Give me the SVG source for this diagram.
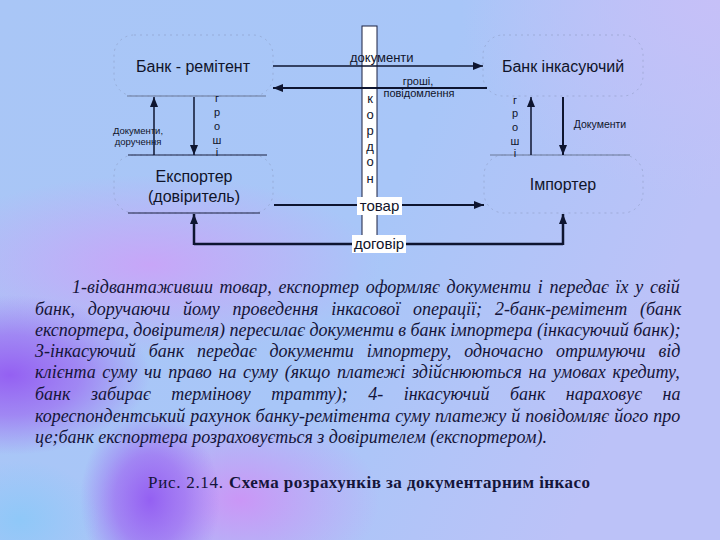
<svg xmlns="http://www.w3.org/2000/svg" width="720" height="540" viewBox="0 0 720 540">
<defs>
<linearGradient id="bg" x1="0" y1="0" x2="1" y2="0.3">
<stop offset="0" stop-color="#a9c6f6"/>
<stop offset="0.6" stop-color="#a8c6f8"/>
<stop offset="1" stop-color="#bcc2f8"/>
</linearGradient>
<radialGradient id="purple">
<stop offset="0" stop-color="#9460f2" stop-opacity="1"/>
<stop offset="0.5" stop-color="#9c6cf2" stop-opacity="0.7"/>
<stop offset="1" stop-color="#a070f2" stop-opacity="0"/>
</radialGradient>
<radialGradient id="lav">
<stop offset="0" stop-color="#c9a4f8" stop-opacity="0.95"/>
<stop offset="1" stop-color="#c9a4f8" stop-opacity="0"/>
</radialGradient>
<radialGradient id="pink">
<stop offset="0" stop-color="#cc94f6" stop-opacity="0.95"/>
<stop offset="1" stop-color="#cc94f6" stop-opacity="0"/>
</radialGradient>
<radialGradient id="tr">
<stop offset="0" stop-color="#c6c0f8" stop-opacity="1"/>
<stop offset="1" stop-color="#c6c0f8" stop-opacity="0"/>
</radialGradient>
<radialGradient id="lblue">
<stop offset="0" stop-color="#8fc8f8" stop-opacity="1"/>
<stop offset="1" stop-color="#8fc8f8" stop-opacity="0"/>
</radialGradient>
<marker id="ah" markerWidth="10" markerHeight="8" refX="10" refY="4" orient="auto" markerUnits="userSpaceOnUse">
<path d="M0,0 L10,4 L0,8 z" fill="#0e1530"/>
</marker>
<style>
.box{fill:none;stroke:#8290b4;stroke-width:1;stroke-dasharray:2 4;opacity:0.45}
.edge{stroke:#1a2040;stroke-width:1}
.edgel{stroke:#6a7898;stroke-width:1}
.con{fill:none;stroke:#0e1530;stroke-width:2}
.lbl{font-family:"Liberation Sans",Arial,sans-serif;fill:#10142a}
.big{font-size:16px;text-anchor:middle}
.sm{font-size:11px;text-anchor:middle}
.xs{font-size:9.5px;text-anchor:middle}
.v{font-size:13px;text-anchor:middle}
.para{font-family:"Liberation Serif","Times New Roman",serif;font-style:italic;font-size:18px;fill:#15153a}
.cap{font-family:"Liberation Serif","Times New Roman",serif;font-size:17px;fill:#15153a}
</style>
</defs>
<rect width="720" height="540" fill="url(#bg)"/>
<ellipse cx="720" cy="0" rx="260" ry="200" fill="url(#tr)"/>
<ellipse cx="150" cy="265" rx="230" ry="90" fill="url(#lav)"/>
<ellipse cx="10" cy="375" rx="140" ry="80" fill="url(#purple)"/>
<ellipse cx="240" cy="500" rx="140" ry="90" fill="url(#pink)"/>
<ellipse cx="150" cy="500" rx="70" ry="90" fill="url(#purple)"/>
<ellipse cx="20" cy="520" rx="80" ry="60" fill="url(#lblue)"/>

<g id="bank-remitent">
<rect class="box" x="114" y="35" width="159" height="61" rx="20"/>
<line class="edgel" x1="127" y1="96" x2="266" y2="96"/>
<text class="lbl big" x="193" y="72">Банк - ремітент</text>
</g>
<g id="bank-inkasuyuchyi">
<rect class="box" x="483" y="35" width="160" height="61" rx="20"/>
<text class="lbl big" x="563" y="72">Банк інкасуючий</text>
</g>
<g id="eksporter">
<rect class="box" x="114" y="155" width="159" height="58" rx="20"/>
<line class="edge" x1="128" y1="155" x2="267" y2="155"/>
<line class="edge" x1="128" y1="213" x2="260" y2="213"/>
<text class="lbl big" x="194" y="182">Експортер</text>
<text class="lbl big" x="194" y="202">(довіритель)</text>
</g>
<g id="importer">
<rect class="box" x="484" y="155" width="159" height="58" rx="20"/>
<line class="edgel" x1="490" y1="155" x2="630" y2="155"/>
<text class="lbl big" x="563" y="190">Імпортер</text>
</g>
<g id="kordon">
<rect x="362" y="26" width="15" height="220" fill="#ffffff" stroke="#1a2040" stroke-width="1"/>
</g>

<g id="connectors">
<path class="con" style="stroke-width:1.5" d="M273,66 H483" marker-end="url(#ah)"/>
<path class="con" d="M487,88 H273" marker-end="url(#ah)"/>
<path class="con" style="stroke-width:1.5" d="M154,155 V97" marker-end="url(#ah)"/>
<path class="con" style="stroke-width:1.5" d="M194,97 V155" marker-end="url(#ah)"/>
<path class="con" style="stroke-width:1.5" d="M531,155 V97" marker-end="url(#ah)"/>
<path class="con" d="M563,97 V155" marker-end="url(#ah)"/>
<path class="con" d="M274,205 H484" marker-end="url(#ah)"/>
<path class="con" style="stroke-width:2.5" d="M194,244 H563"/>
<path class="con" style="stroke-width:2.5" d="M194,245 V214" marker-end="url(#ah)"/>
<path class="con" style="stroke-width:2.5" d="M563,245 V214" marker-end="url(#ah)"/>
</g>

<g id="labels">
<text class="lbl" x="350" y="62" style="font-size:13px">документи</text>
<text class="lbl sm" x="418" y="85">гроші,</text>
<text class="lbl sm" x="419" y="97">повідомлення</text>
<text class="lbl v" x="370" y="103">к</text>
<text class="lbl v" x="370" y="119">о</text>
<text class="lbl v" x="370" y="135">р</text>
<text class="lbl v" x="370" y="151">д</text>
<text class="lbl v" x="370" y="166">о</text>
<text class="lbl v" x="370" y="183">н</text>
<rect x="357" y="197" width="45" height="18" fill="#ffffff"/>
<text class="lbl" x="379.5" y="211" style="font-size:15px;text-anchor:middle">товар</text>
<rect x="352" y="235" width="54" height="18" fill="#ffffff"/>
<text class="lbl" x="379" y="249" style="font-size:15px;text-anchor:middle">договір</text>
<text class="lbl sm" x="217" y="102">г</text>
<text class="lbl sm" x="217" y="116">р</text>
<text class="lbl sm" x="217" y="130">о</text>
<text class="lbl sm" x="217" y="144">ш</text>
<text class="lbl sm" x="217" y="156">і</text>
<text class="lbl sm" x="515" y="104">г</text>
<text class="lbl sm" x="515" y="117">р</text>
<text class="lbl sm" x="515" y="131">о</text>
<text class="lbl sm" x="515" y="145">ш</text>
<text class="lbl sm" x="515" y="157">і</text>
<text class="lbl xs" x="138" y="134">Документи,</text>
<text class="lbl xs" x="138" y="145">доручення</text>
<text class="lbl" x="600" y="128" style="font-size:10.5px;text-anchor:middle">Документи</text>
</g>

<g id="paragraph">
<text class="para" x="72" y="293" style="word-spacing:2.2px">1-відвантаживши товар, експортер оформляє документи і передає їх у свій</text>
<text class="para" x="35" y="315" style="word-spacing:8.3px">банк, доручаючи йому проведення інкасової операції; 2-банк-ремітент (банк</text>
<text class="para" x="35" y="336" style="word-spacing:-0.1px">експортера, довірителя) пересилає документи в банк імпортера (інкасуючий банк);</text>
<text class="para" x="35" y="357" style="word-spacing:8.4px">3-інкасуючий банк передає документи імпортеру, одночасно отримуючи від</text>
<text class="para" x="35" y="378" style="word-spacing:2.2px">клієнта суму чи право на суму (якщо платежі здійснюються на умовах кредиту,</text>
<text class="para" x="35" y="400" style="word-spacing:16px">банк забирає термінову тратту); 4- інкасуючий банк нараховує на</text>
<text class="para" x="35" y="422" style="word-spacing:0.5px">кореспондентський рахунок банку-ремітента суму платежу й повідомляє його про</text>
<text class="para" x="35" y="443">це;банк експортера розраховується з довірителем (експортером).</text>
</g>

<g id="caption">
<text class="cap" x="148" y="488" textLength="75" lengthAdjust="spacing">Рис. 2.14.</text>
<text class="cap" x="229" y="488" style="font-weight:bold" textLength="361" lengthAdjust="spacing">Схема розрахунків за документарним інкасо</text>
</g>
</svg>
